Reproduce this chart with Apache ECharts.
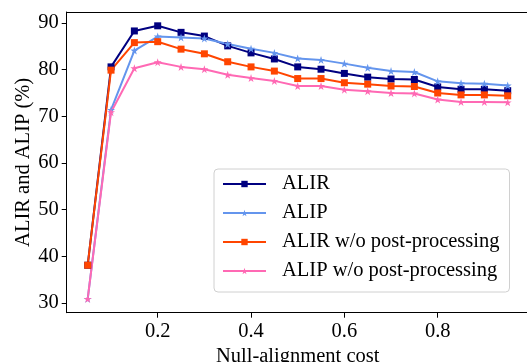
<!DOCTYPE html>
<html><head><meta charset="utf-8">
<script src="https://cdn.jsdelivr.net/npm/echarts@6/dist/echarts.min.js"></script>
<style>html,body{margin:0;padding:0;background:#fff}#c{width:527px;height:362px}</style>
</head><body><div id="c"></div>
<script>
const costs = [0.05,0.1,0.15,0.2,0.25,0.3,0.35,0.4,0.45,0.5,0.55,0.6,0.65,0.7,0.75,0.8,0.85,0.9,0.95];
const alir = [38.1,80.6,88.3,89.4,88.0,87.2,85.1,83.6,82.3,80.6,80.1,79.2,78.4,78.0,77.9,76.3,75.8,75.8,75.5];
const alip = [30.9,71.4,84.1,87.1,86.9,86.7,85.5,84.5,83.6,82.4,82.1,81.3,80.4,79.7,79.5,77.5,77.1,77.0,76.6];
const alirNoPost = [38.1,79.9,85.8,86.0,84.4,83.4,81.7,80.6,79.7,78.1,78.1,77.2,76.9,76.5,76.4,75.0,74.6,74.6,74.4];
const alipNoPost = [30.9,70.9,80.3,81.6,80.6,80.1,78.9,78.2,77.6,76.5,76.5,75.7,75.4,75.0,74.9,73.6,73.1,73.1,73.0];
const seriesNames = ['ALIR','ALIP','ALIR w/o post-processing','ALIP w/o post-processing'];
const xTicks = [0.2,0.4,0.6,0.8];
const yTicks = [30,40,50,60,70,80,90];

const STAR = 'path://M100,0L122.45,69.1L195.1,69.1L136.3,111.8L158.8,180.9L100,138.2L41.2,180.9L63.7,111.8L4.9,69.1L77.55,69.1Z';
const FONT = '"Liberation Serif","Times New Roman",serif';
const FS = 20.5;
const pair = (ys) => costs.map((x,i)=>[x,ys[i]]);
const styles = [
  {color:'#000080', symbol:'rect', size:7, data:alir},
  {color:'#6495ED', symbol:STAR, size:8, data:alip},
  {color:'#FF4500', symbol:'rect', size:7, data:alirNoPost},
  {color:'#FF69B4', symbol:STAR, size:8, data:alipNoPost}
];
const chart = echarts.init(document.getElementById('c'), null, {renderer:'canvas'});
chart.setOption({
  animation:false,
  backgroundColor:'#fff',
  textStyle:{fontFamily:FONT},
  grid:{left:66.7, right:-1.7, top:12, bottom:49.3, show:false, containLabel:false, outerBoundsMode:'none'},
  xAxis:[{type:'value', min:0.005, max:0.995,
    name:'Null-alignment cost', nameLocation:'middle', nameGap:33,
    nameTextStyle:{fontFamily:FONT, fontSize:FS, color:'#000'},
    nameMoveOverlap:false,
    splitLine:{show:false},
    axisLine:{lineStyle:{color:'#000', width:1}},
    axisTick:{customValues:xTicks, length:5, inside:false, lineStyle:{color:'#000'}},
    axisLabel:{customValues:xTicks, fontFamily:FONT, fontSize:FS, color:'#000', margin:8, formatter:(v)=>String(v)}
  },{type:'value', position:'top', min:0.005, max:0.995,
    splitLine:{show:false}, axisTick:{show:false}, axisLabel:{show:false},
    axisLine:{show:true, lineStyle:{color:'#000', width:1}}
  }],
  yAxis:{type:'value', min:27.93, max:92.36,
    name:'ALIR and ALIP (%)', nameLocation:'middle', nameGap:33,
    nameTextStyle:{fontFamily:FONT, fontSize:FS, color:'#000'},
    nameMoveOverlap:false,
    splitLine:{show:false},
    axisLine:{show:true, lineStyle:{color:'#000', width:1}},
    axisTick:{show:true, customValues:yTicks, length:5, lineStyle:{color:'#000'}},
    axisLabel:{customValues:yTicks, fontFamily:FONT, fontSize:FS, color:'#000', margin:8}
  },
  legend:{
    left:214, top:169, orient:'vertical',
    backgroundColor:'#fff', borderColor:'#d0d0d0', borderWidth:1, borderRadius:4,
    padding:[4,10,10,8], itemWidth:43, itemHeight:8, itemGap:7,
    textStyle:{fontFamily:FONT, fontSize:FS, color:'#000', lineHeight:22, padding:[0,0,0,11]},
    data:seriesNames
  },
  series: styles.map((s,i)=>({
    name:seriesNames[i], type:'line', data:pair(s.data), xAxisIndex:0,
    symbol:s.symbol, symbolSize:s.size, showAllSymbol:true,
    lineStyle:{color:s.color, width:2},
    itemStyle:{color:s.color, borderWidth:0},
    emphasis:{disabled:true}
  }))
});
</script></body></html>
